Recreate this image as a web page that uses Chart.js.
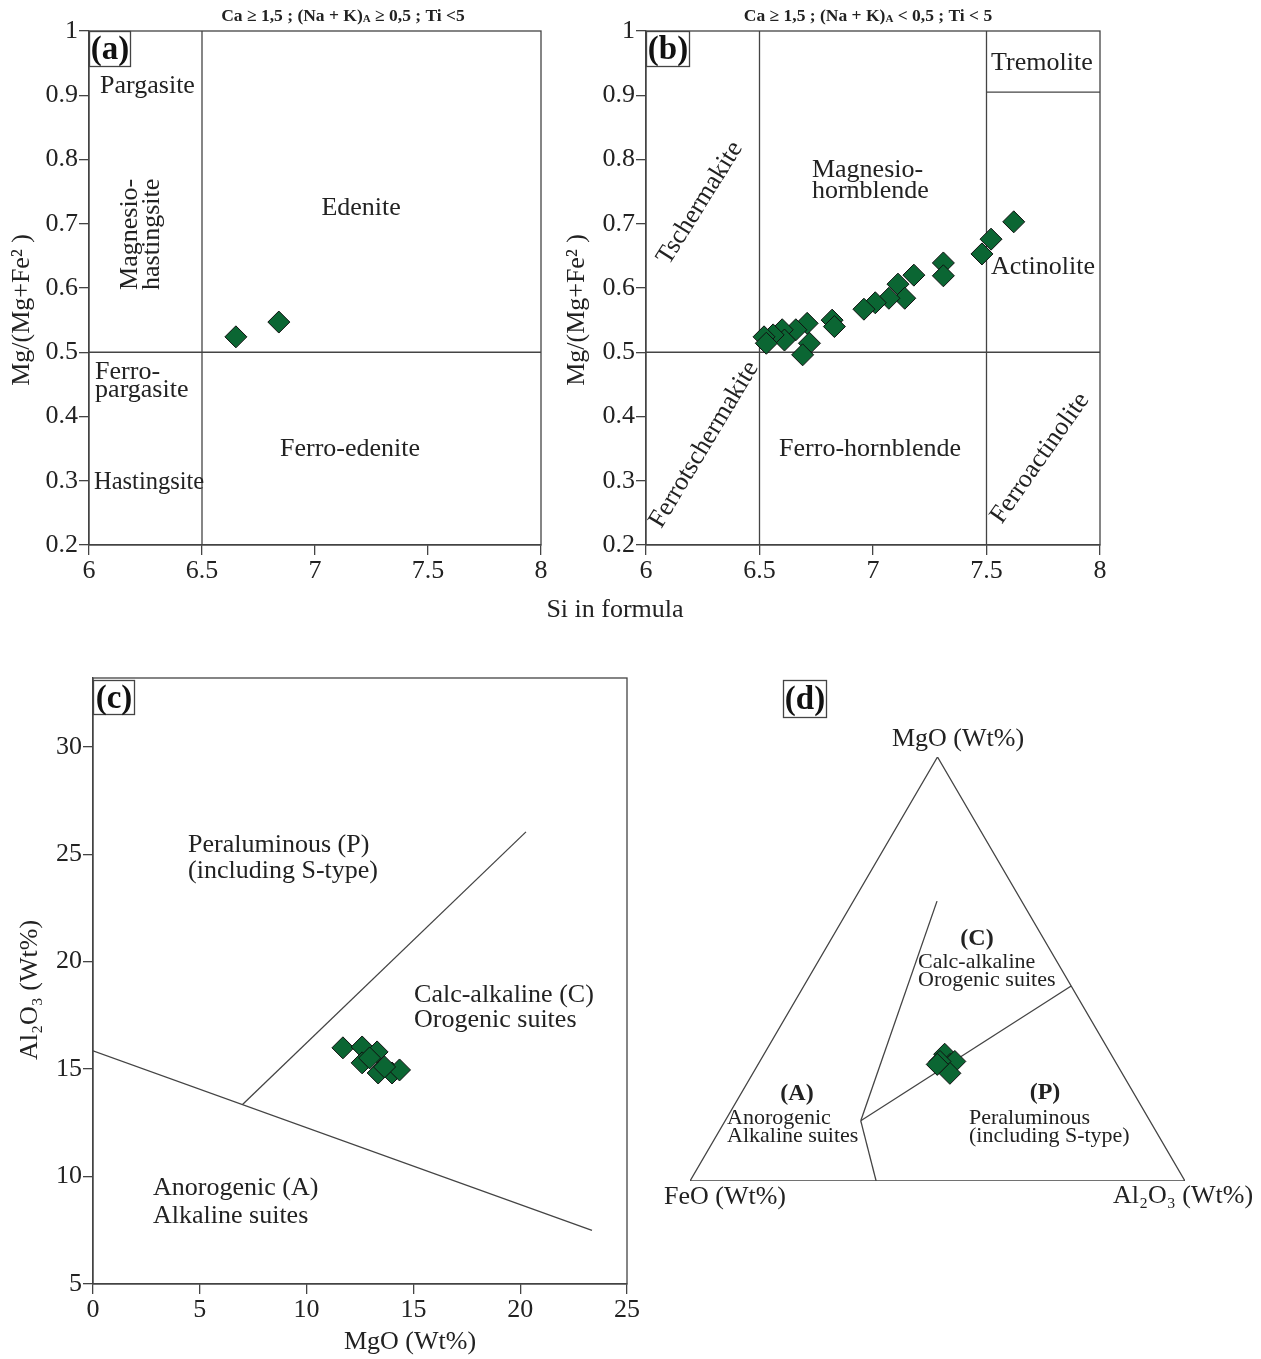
<!DOCTYPE html>
<html>
<head>
<meta charset="utf-8">
<script src="https://cdn.jsdelivr.net/npm/chart.js@4.4.0/dist/chart.umd.min.js"></script>
<style>
  body { margin: 0; background: #fff; width: 1261px; height: 1359px; position: relative; overflow: hidden; }
  canvas { position: absolute; }
</style>
</head>
<body>
<canvas id="chartA" width="560" height="640" style="left:0;top:0"></canvas>
<canvas id="chartB" width="600" height="640" style="left:520px;top:0"></canvas>
<canvas id="chartC" width="660" height="699" style="left:0;top:660px"></canvas>
<canvas id="chartD" width="601" height="699" style="left:660px;top:660px"></canvas>
<script>
// ---- data ----
const siTicks = [6, 6.5, 7, 7.5, 8];
const mgTicks = [0.2, 0.3, 0.4, 0.5, 0.6, 0.7, 0.8, 0.9, 1];

// (a) Ca >= 1.5, (Na+K)A >= 0.5
const siA = [6.65, 6.84];
const mgA = [0.524, 0.547];

// (b) Ca >= 1.5, (Na+K)A < 0.5
const siB = [7.62, 7.52, 7.48, 7.31, 7.31, 7.18, 7.11, 7.14, 7.07, 7.01, 6.96, 6.82, 6.83, 6.71, 6.72, 6.69, 6.66, 6.60, 6.61, 6.56, 6.52, 6.53];
const mgB = [0.703, 0.676, 0.653, 0.639, 0.619, 0.620, 0.606, 0.584, 0.584, 0.577, 0.567, 0.550, 0.540, 0.545, 0.514, 0.496, 0.535, 0.535, 0.519, 0.527, 0.524, 0.514];

// (c) MgO vs Al2O3
const mgoTicks = [0, 5, 10, 15, 20, 25];
const alTicks = [5, 10, 15, 20, 25, 30];
const mgoC = [11.7, 12.6, 13.3, 12.6, 12.95, 13.35, 14.0, 14.35, 13.65];
const al2o3C = [15.99, 16.03, 15.8, 15.29, 15.52, 14.82, 14.82, 14.96, 15.1];

// (d) FeO - MgO - Al2O3 ternary (wt%)
const feoD = [33.6, 33.7, 32.4, 34.8, 35.4, 36.3];
const mgoD = [29.9, 27.5, 28.2, 25.4, 28.2, 27.5];
const al2o3D = [36.5, 38.8, 39.4, 39.8, 36.4, 36.2];

// field boundaries
const fieldsA = [[[6.5, 0.2], [6.5, 1]], [[6, 0.5], [8, 0.5]]];
const fieldsB = [[[6.5, 0.2], [6.5, 1]], [[7.5, 0.2], [7.5, 1]], [[6, 0.5], [8, 0.5]], [[7.5, 0.905], [8, 0.905]]];
const fieldsC = [[[0, 15.85], [23.36, 7.5]], [[7.0, 13.35], [20.27, 26.04]]];
// ternary as [FeO, MgO, Al2O3]
const fieldsD = [
  [[100, 0, 0], [0, 100, 0], [0, 0, 100], [100, 0, 0]],
  [[17.1, 66, 16.9], [58.4, 14.2, 27.4]],
  [[58.4, 14.2, 27.4], [62.4, 0, 37.6]],
  [[58.4, 14.2, 27.4], [0, 46, 54]]
];

// ---- helpers ----
const SERIF = "'Liberation Serif', 'DejaVu Serif', serif";
const INK = '#222';
const LINE = '#444';
const GREEN = '#0b6633';
Chart.defaults.font.family = SERIF;
Chart.defaults.color = INK;
Chart.defaults.animation = false;

function ternary(fe, mg, al) {
  const s = fe + mg + al;
  return { x: (al + mg / 2) / s, y: (mg / s) * Math.sqrt(3) / 2 };
}

function pointSet(xs, ys) {
  return {
    data: xs.map((x, i) => ({ x: x, y: ys[i] })),
    pointStyle: 'rectRot',
    pointRadius: 11,
    backgroundColor: GREEN,
    borderColor: '#111',
    borderWidth: 1,
    showLine: false
  };
}

function lineSet(pts) {
  return {
    data: pts.map(p => ({ x: p[0], y: p[1] })),
    showLine: true,
    pointRadius: 0,
    borderColor: LINE,
    borderWidth: 1.3,
    fill: false
  };
}

function axis(min, max, ticks, fit) {
  return {
    type: 'linear', min: min, max: max,
    afterBuildTicks: s => { s.ticks = ticks.map(v => ({ value: v })); },
    afterFit: fit,
    ticks: { font: { size: 26, family: SERIF }, color: INK, padding: 1, autoSkip: false, maxRotation: 0, callback: v => String(v) },
    grid: { drawOnChartArea: false, drawTicks: true, tickLength: 10, color: LINE, lineWidth: 1.3 },
    border: { display: true, color: LINE, width: 1.3 }
  };
}

function fontOf(seg, it) {
  const size = seg.size || it.size || 26;
  const bold = seg.bold !== undefined ? seg.bold : it.bold;
  return (bold ? 'bold ' : '') + size + 'px ' + SERIF;
}

function drawText(ctx, chart, it) {
  let x = it.x, y = it.y;
  if (it.data) {
    x = chart.scales.x.getPixelForValue(it.x);
    y = chart.scales.y.getPixelForValue(it.y);
  }
  ctx.save();
  ctx.translate(x, y);
  ctx.rotate((it.rot || 0) * Math.PI / 180);
  ctx.fillStyle = INK;
  ctx.textBaseline = 'middle';
  ctx.textAlign = 'left';
  const segs = Array.isArray(it.t) ? it.t : [{ t: it.t }];
  const widths = segs.map(s => { ctx.font = fontOf(s, it); return ctx.measureText(s.t).width; });
  const total = widths.reduce((a, b) => a + b, 0);
  let cx = it.align === 'left' ? 0 : (it.align === 'right' ? -total : -total / 2);
  segs.forEach((s, i) => {
    ctx.font = fontOf(s, it);
    ctx.fillText(s.t, cx, s.dy || 0);
    cx += widths[i];
  });
  ctx.restore();
}

function drawTag(ctx, text, left, top, w, h) {
  ctx.save();
  ctx.fillStyle = '#fff';
  ctx.fillRect(left, top, w, h);
  ctx.strokeStyle = LINE;
  ctx.lineWidth = 1.3;
  ctx.strokeRect(left + 0.5, top + 0.5, w, h);
  ctx.fillStyle = '#111';
  ctx.font = 'bold 33px ' + SERIF;
  ctx.textAlign = 'center';
  ctx.textBaseline = 'middle';
  ctx.fillText(text, left + w / 2 + 0.5, top + h / 2 + 2);
  ctx.restore();
}

function decor(texts, tag, frame) {
  return {
    id: 'decor',
    afterDraw(chart) {
      const ctx = chart.ctx;
      const a = chart.chartArea;
      if (frame) {
        ctx.save();
        ctx.strokeStyle = LINE;
        ctx.lineWidth = 1.3;
        ctx.strokeRect(a.left, a.top, a.right - a.left, a.bottom - a.top);
        ctx.restore();
      }
      texts.forEach(it => drawText(ctx, chart, it));
      if (tag) {
        const l = tag.left !== undefined ? tag.left : a.left;
        const t = tag.top !== undefined ? tag.top : a.top;
        drawTag(ctx, tag.text, l, t, tag.w, tag.h);
      }
    }
  };
}

function baseOptions(padding, xs, ys) {
  return {
    responsive: false,
    animation: false,
    layout: { padding: padding },
    plugins: { legend: { display: false }, tooltip: { enabled: false } },
    scales: { x: xs, y: ys }
  };
}

// ---- (a) ----
const textsA = [
  { t: [{ t: 'Ca ≥ 1,5 ; (Na + K)' }, { t: 'A', size: 11, dy: 3 }, { t: ' ≥ 0,5 ; Ti <5' }], x: 343, y: 16, size: 17.5, bold: true },
  { t: 'Mg/(Mg+Fe² )', x: 22, y: 310, rot: -90 },
  { t: 'Pargasite', x: 6.049, y: 0.914, data: true, align: 'left' },
  { t: 'Magnesio-', x: 6.181, y: 0.597, data: true, align: 'left', rot: -90 },
  { t: 'hastingsite', x: 6.279, y: 0.597, data: true, align: 'left', rot: -90 },
  { t: 'Edenite', x: 7.204, y: 0.7245, data: true },
  { t: 'Ferro-', x: 6.027, y: 0.469, data: true, align: 'left' },
  { t: 'pargasite', x: 6.027, y: 0.441, data: true, align: 'left' },
  { t: 'Hastingsite', x: 6.022, y: 0.2965, data: true, align: 'left', size: 24.5 },
  { t: 'Ferro-edenite', x: 7.155, y: 0.349, data: true }
];
new Chart(document.getElementById('chartA'), {
  type: 'scatter',
  data: { datasets: [pointSet(siA, mgA)].concat(fieldsA.map(lineSet)) },
  options: baseOptions({ top: 31, right: 19, left: 0, bottom: 40 },
    axis(6, 8, siTicks, s => { s.height = 55; }),
    axis(0.2, 1, mgTicks, s => { s.width = 89; })),
  plugins: [decor(textsA, { text: '(a)', w: 41, h: 35 }, true)]
});

// ---- (b) ----
const textsB = [
  { t: [{ t: 'Ca ≥ 1,5 ; (Na + K)' }, { t: 'A', size: 11, dy: 3 }, { t: ' < 0,5 ; Ti < 5' }], x: 348, y: 16, size: 17.5, bold: true },
  { t: 'Mg/(Mg+Fe² )', x: 57, y: 310, rot: -90 },
  { t: 'Si in formula', x: 95, y: 610 },
  { t: 'Tremolite', x: 7.744, y: 0.950, data: true },
  { t: 'Magnesio-', x: 6.731, y: 0.784, data: true, align: 'left' },
  { t: 'hornblende', x: 6.731, y: 0.751, data: true, align: 'left' },
  { t: 'Tschermakite', x: 6.238, y: 0.732, data: true, rot: -58 },
  { t: 'Ferrotschermakite', x: 6.256, y: 0.356, data: true, rot: -59 },
  { t: 'Actinolite', x: 7.52, y: 0.633, data: true, align: 'left' },
  { t: 'Ferro-hornblende', x: 6.987, y: 0.349, data: true },
  { t: 'Ferroactinolite', x: 7.736, y: 0.335, data: true, rot: -55 }
];
new Chart(document.getElementById('chartB'), {
  type: 'scatter',
  data: { datasets: [pointSet(siB, mgB)].concat(fieldsB.map(lineSet)) },
  options: baseOptions({ top: 31, right: 20, left: 0, bottom: 40 },
    axis(6, 8, siTicks, s => { s.height = 55; }),
    axis(0.2, 1, mgTicks, s => { s.width = 126; })),
  plugins: [decor(textsB, { text: '(b)', w: 43, h: 35 }, true)]
});

// ---- (c) ----
const textsC = [
  { t: 'Al₂O₃ (Wt%)', x: 30, y: 330, rot: -90 },
  { t: 'MgO (Wt%)', x: 410, y: 682 },
  { t: 'Peraluminous (P)', x: 4.45, y: 25.44, data: true, align: 'left' },
  { t: '(including S-type)', x: 4.45, y: 24.23, data: true, align: 'left' },
  { t: 'Calc-alkaline (C)', x: 15.03, y: 18.45, data: true, align: 'left' },
  { t: 'Orogenic suites', x: 15.03, y: 17.29, data: true, align: 'left' },
  { t: 'Anorogenic (A)', x: 2.81, y: 9.47, data: true, align: 'left' },
  { t: 'Alkaline suites', x: 2.81, y: 8.17, data: true, align: 'left' }
];
new Chart(document.getElementById('chartC'), {
  type: 'scatter',
  data: { datasets: [pointSet(mgoC, al2o3C)].concat(fieldsC.map(lineSet)) },
  options: baseOptions({ top: 18, right: 33, left: 0, bottom: 0 },
    axis(0, 25, mgoTicks, s => { s.height = 75; }),
    axis(5, 33.2, alTicks, s => { s.width = 93; })),
  plugins: [decor(textsC, { text: '(c)', w: 41, h: 34, top: 20 }, true)]
});

// ---- (d) ----
const ternPts = feoD.map((f, i) => ternary(f, mgoD[i], al2o3D[i]));
const textsD = [
  { t: 'MgO (Wt%)', x: 298, y: 79 },
  { t: 'FeO (Wt%)', x: 65, y: 537 },
  { t: 'Al₂O₃ (Wt%)', x: 523, y: 536 },
  { t: '(C)', x: 317, y: 279, size: 24, bold: true },
  { t: 'Calc-alkaline', x: 258, y: 302, size: 22, align: 'left' },
  { t: 'Orogenic suites', x: 258, y: 320, size: 22, align: 'left' },
  { t: '(A)', x: 137, y: 434, size: 24, bold: true },
  { t: 'Anorogenic', x: 67, y: 458, size: 22, align: 'left' },
  { t: 'Alkaline suites', x: 67, y: 476, size: 22, align: 'left' },
  { t: '(P)', x: 385, y: 433, size: 24, bold: true },
  { t: 'Peraluminous', x: 309, y: 458, size: 22, align: 'left' },
  { t: '(including S-type)', x: 309, y: 476, size: 22, align: 'left' }
];
const dSets = [pointSet(ternPts.map(p => p.x), ternPts.map(p => p.y))].concat(
  fieldsD.map(f => lineSet(f.map(v => { const p = ternary(v[0], v[1], v[2]); return [p.x, p.y]; })))
);
new Chart(document.getElementById('chartD'), {
  type: 'scatter',
  data: { datasets: dSets },
  options: baseOptions({ top: 97, right: 76, left: 30, bottom: 178 },
    { type: 'linear', min: 0, max: 1, display: false },
    { type: 'linear', min: 0, max: Math.sqrt(3) / 2, display: false }),
  plugins: [decor(textsD, { text: '(d)', w: 43, h: 37, left: 123, top: 20 }, false)]
});
</script>
</body>
</html>
